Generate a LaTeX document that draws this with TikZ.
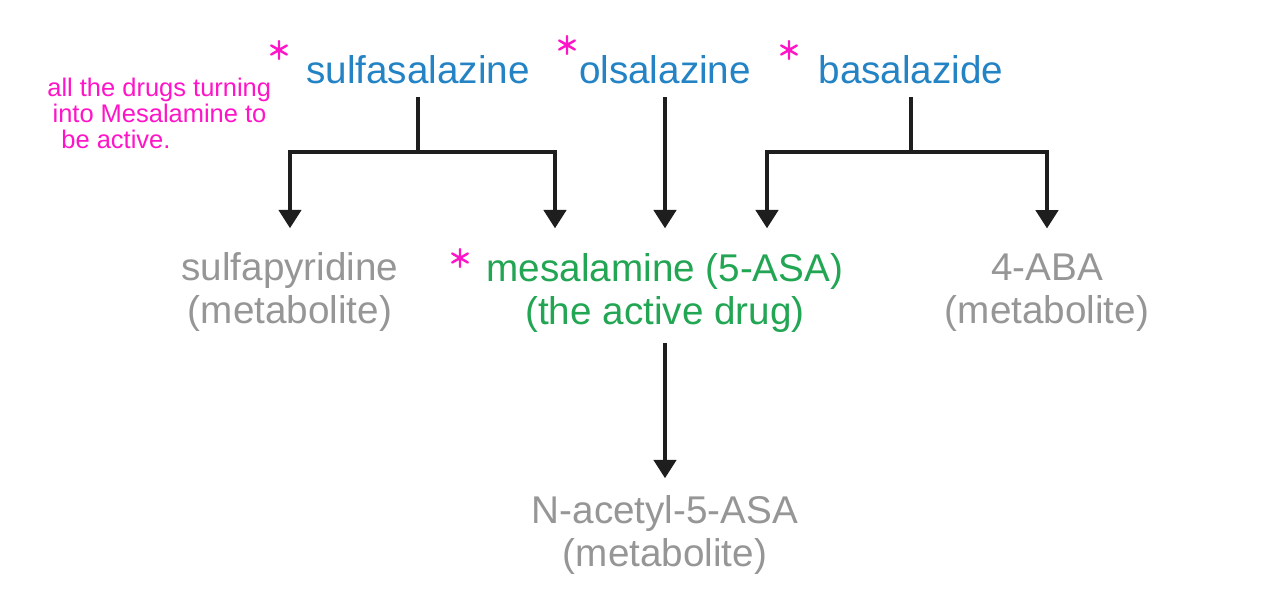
\documentclass[tikz,border=0pt]{standalone}
\usepackage{fontspec}
\setmainfont{Liberation Sans}
\usepackage{tikz}
\usetikzlibrary{
    arrows.meta,
    positioning,
    calc,
}
\definecolor{drugblue}{RGB}{35,131,196}
\definecolor{activegreen}{RGB}{34,166,84}
\definecolor{metabgray}{RGB}{150,150,150}
\definecolor{linkblack}{RGB}{30,30,30}
\definecolor{notepink}{RGB}{255,20,200}

\begin{document}
\begin{tikzpicture}[
    x=0.02cm, y=-0.02cm,
    drug/.style={inner sep=0pt, anchor=north, text=drugblue, font=\fontsize{22}{24.5}\selectfont},
    active/.style={inner sep=0pt, anchor=north, align=center, text=activegreen, font=\fontsize{22}{24.5}\selectfont},
    metab/.style={inner sep=0pt, anchor=north, align=center, text=metabgray, font=\fontsize{22}{24.5}\selectfont},
    link/.style={line width=2.8pt, draw=linkblack},
    arr/.style={link, -{Triangle[width=12.5pt, length=10.5pt]}},
    note/.style={inner sep=0pt, anchor=north west, align=left, text=notepink, font=\fontsize{14.5}{14.8}\selectfont},
    pinkstar/.style={draw=notepink, line width=1.4pt, line cap=round},
    ]

\path[fill=white, use as bounding box] (0,0) rectangle (1286,602);

% drugs
\node[drug] (sulfa) at (418,55) {sulfasalazine};
\node[drug] (olsal) at (665,55) {olsalazine};
\node[drug] (basal) at (911,55) {basalazide};

% products
\node[metab] (sulfapyridine) at (290,252) {sulfapyridine\\(metabolite)};
\node[active] (mesal) at (665,253) {mesalamine (5-ASA)\\(the active drug)};
\node[metab] (aba) at (1047,254) {4-ABA\\(metabolite)};
\node[metab] (nacetyl) at (665,495) {N-acetyl-5-ASA\\(metabolite)};

\coordinate (sulfaSplit) at (418,152);
\coordinate (basalSplit) at (911,152);
\coordinate (sulfaIn) at (555,253);
\coordinate (basalIn) at (767,253);

\draw[link, shorten <=7.5pt] (sulfa.south) -- (sulfaSplit);
\draw[arr, shorten >=13.5pt] (sulfaSplit) -| (sulfapyridine.north);
\draw[arr, shorten >=14pt] (sulfaSplit) -| (sulfaIn);

\draw[arr, shorten <=7.5pt, shorten >=14pt] (olsal.south) -- (mesal.north);

\draw[link, shorten <=7.5pt] (basal.south) -- (basalSplit);
\draw[arr, shorten >=14pt] (basalSplit) -| (basalIn);
\draw[arr, shorten >=14.5pt] (basalSplit) -| (aba.north);

\draw[arr, shorten <=6pt, shorten >=9.5pt] (mesal.south) -- (nacetyl.north);

% handwritten note
\node[note] (allnote) at (47,78)
    {all the drugs turning\\\hspace{3pt}into Mesalamine to\\\hspace{8pt}be active.};

\foreach \sx/\sy in {279/50, 567/45, 789/50, 460/258}
    \draw[pinkstar] (\sx,\sy) ++(90:9) -- ++(270:18)
        (\sx,\sy) ++(30:9) -- ++(210:18)
        (\sx,\sy) ++(150:9) -- ++(330:18);

\end{tikzpicture}
\end{document}
